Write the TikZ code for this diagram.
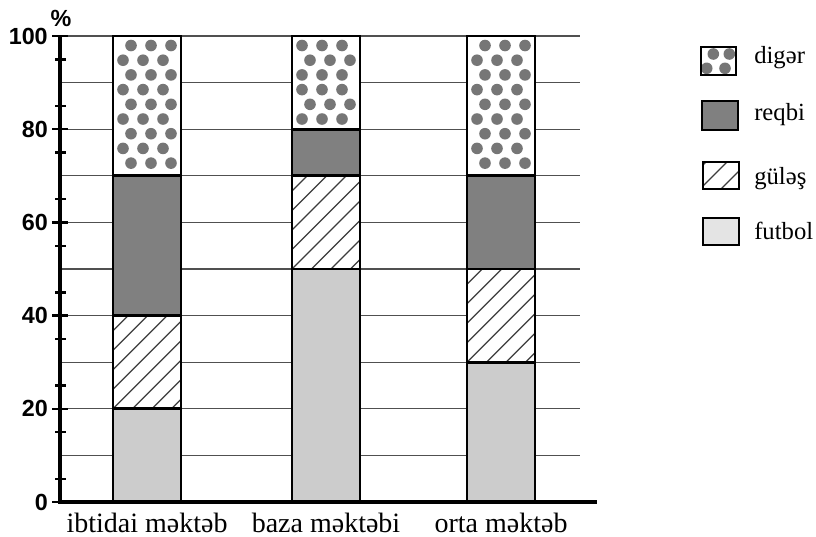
\documentclass[tikz,border=0pt]{standalone}
\usepackage{fontspec}
\setmainfont{Liberation Serif}
\newfontfamily\axisfont{Liberation Sans}
\usepackage{xcolor}

\definecolor{futbolgray}{RGB}{204,204,204}
\definecolor{futbollight}{RGB}{228,228,228}
\definecolor{reqbigray}{RGB}{128,128,128}
\definecolor{dotgray}{RGB}{118,118,118}
\definecolor{hatchgray}{RGB}{60,60,60}
\definecolor{gridgray}{RGB}{80,80,80}

\tikzset{
  bar/.style={draw=black, line width=2.2pt},
  legbox/.style={draw=black, line width=1.8pt},
  gridline/.style={draw=gridgray, line width=1pt},
  axisline/.style={draw=black, line width=2.6pt},
  tickline/.style={draw=black, line width=1.8pt},
  hatchline/.style={draw=hatchgray, line width=0.9pt},
  dotfill/.style={fill=dotgray},
  ticklabel/.style={anchor=east, inner sep=0pt, font=\axisfont\bfseries\fontsize{17.5}{20}\selectfont},
  catlabel/.style={anchor=base, inner sep=0pt, font=\fontsize{21}{24}\selectfont},
  leglabel/.style={anchor=base west, inner sep=0pt, font=\fontsize{18.5}{22}\selectfont},
  declare function={yp(\p)=502-4.66*\p;}
}

\begin{document}
\begin{tikzpicture}[x=0.75pt,y=0.75pt,yscale=-1]
        \useasboundingbox (0,0) rectangle (816,536);

        % grid
        \foreach \p in {10,20,...,100}
          \draw[gridline] (60,{yp(\p)}) -- (580,{yp(\p)});

        % bars: futbol / gules / reqbi / diger
        \foreach \bx/\a/\b/\c in {113/20/40/70, 292/50/70/80, 467/30/50/70}{
          \draw[bar, fill=futbolgray] (\bx,{yp(0)}) rectangle ({\bx+68},{yp(\a)});
          \begin{scope}
            \clip (\bx,{yp(\b)}) rectangle ({\bx+68},{yp(\a)});
            \fill[white] (\bx,{yp(\b)}) rectangle ({\bx+68},{yp(\a)});
            \foreach \k in {-6,...,10}
              \draw[hatchline] ({\bx+19.5*\k},{yp(\a)}) -- ({\bx+19.5*\k+120},{yp(\a)-120});
          \end{scope}
          \draw[bar] (\bx,{yp(\b)}) rectangle ({\bx+68},{yp(\a)});
          \draw[bar, fill=reqbigray] (\bx,{yp(\c)}) rectangle ({\bx+68},{yp(\b)});
          \draw[bar, fill=white] (\bx,{yp(100)}) rectangle ({\bx+68},{yp(\c)});
        }

        % dots of diger
        \foreach \bx/\offs in {113/{18,10,18,10,18,10,18,10,18}, 292/{10,18,10,10,18,10}, 467/{18,10,18,10,18,10,18,10,18}}
          \foreach \o [count=\r from 0] in \offs
            \foreach \j in {0,1,2}
              \fill[dotfill] ({\bx+\o+20*\j},{45.5+14.7*\r}) circle[radius=5.8];

        % axes
        \foreach \p in {0,20,...,100}
          \draw[tickline] (52,{yp(\p)}) -- (68,{yp(\p)});
        \foreach \p in {5,15,...,95}
          \draw[tickline] (55,{yp(\p)}) -- (66,{yp(\p)});
        \draw[axisline] (60,{yp(100)}) -- (60,{yp(0)}) -- (597,{yp(0)});

        % tick labels
        \foreach \p in {0,20,...,100}
          \node[ticklabel] (lab\p) at (48,{yp(\p)}) {\p};
        \node[font=\axisfont\bfseries\fontsize{17.5}{20}\selectfont, inner sep=0pt] (pct) at (61,18) {\%};

        % categories
        \node[catlabel] (cat1) at (147,532) {ibtidai məktəb};
        \node[catlabel] (cat2) at (326,532) {baza məktəbi};
        \node[catlabel] (cat3) at (501,532) {orta məktəb};

        % legend
        \begin{scope}
          \clip (701,47) rectangle (736,75);
          \foreach \dx/\dy in {713.3/54, 729.3/54, 706.7/68.3, 725/68.3}
            \fill[dotfill] (\dx,\dy) circle[radius=5.8];
        \end{scope}
        \draw[legbox] (701,47) rectangle (736,75);
        \draw[legbox, fill=reqbigray] (702,101) rectangle (738,130);
        \begin{scope}
          \clip (703,162) rectangle (739,189);
          \foreach \c in {868,889,910}
            \draw[hatchline] ({\c-189},189) -- ({\c-162},162);
        \end{scope}
        \draw[legbox] (703,162) rectangle (739,189);
        \draw[legbox, fill=futbollight] (703,218) rectangle (739,245);

        \node[leglabel] (legdiger) at (754,63) {digər};
        \node[leglabel] (legreqbi) at (754,120) {reqbi};
        \node[leglabel] (leggules) at (754,184) {güləş};
        \node[leglabel] (legfutbol) at (754,239) {futbol};
\end{tikzpicture}
\end{document}
